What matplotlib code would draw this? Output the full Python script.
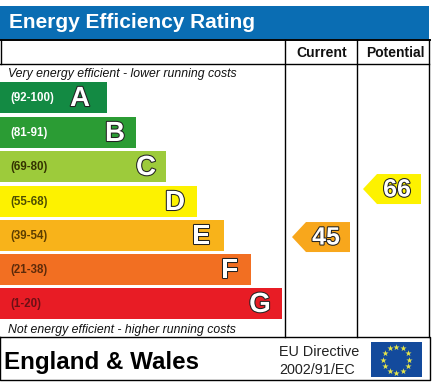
import matplotlib
matplotlib.use("Agg")
import matplotlib.pyplot as plt
import matplotlib.patheffects as pe
import numpy as np

plt.rcParams['font.family'] = ['Liberation Sans', 'DejaVu Sans']

# bands, top to bottom
letters = ["A", "B", "C", "D", "E", "F", "G"]
ranges = ["(92-100)", "(81-91)", "(69-80)", "(55-68)", "(39-54)", "(21-38)", "(1-20)"]
bar_len = [107, 136, 166, 197, 224, 251, 282]
bar_top = [82, 117, 151, 186, 220, 254, 288]
bar_colors = ["#138a43", "#2b9c34", "#9dcb3b", "#fdf200", "#f8b31a", "#f26f22", "#e81c25"]
range_colors = ["white", "white", "#333300", "#4d4d00", "#5c3d00", "#5c2a0a", "#6b1015"]
letter_x = [80, 115, 146, 175, 201, 230, 260]

current = 45
potential = 66

W, H = 435, 385
fig = plt.figure(figsize=(W / 100, H / 100), dpi=100)
ax = fig.add_axes([0, 0, 1, 1])
ax.set_xlim(0, W)
ax.set_ylim(H, 0)
ax.axis("off")


def score_y(s):
    # arrow height on the same pixel scale as the bands
    return 339.9 - 2.286 * s


# header
ax.barh(22.5, 429, height=33, left=0, color="#0a6db3")
ax.text(9, 23, "Energy Efficiency Rating", color="white", fontsize=15,
        fontweight="bold", va="center", ha="left")

# table lines
ax.plot([0, 430], [40, 40], color="black", lw=1.4)
ax.plot([0, 429], [64, 64], color="black", lw=1)
ax.plot([0.5, 0.5], [40, 64], color="black", lw=1)
ax.plot([285.5, 285.5], [40, 337], color="black", lw=1)
ax.plot([357.5, 357.5], [40, 337], color="black", lw=1)
ax.plot([429, 429], [40, 337], color="black", lw=1)

ax.text(322, 53, "Current", fontsize=10.1, fontweight="bold", ha="center", va="center", color="#111111")
ax.text(395, 53, "Potential", fontsize=10, fontweight="bold", ha="center", va="center", color="#111111")

ax.text(8, 73.5, "Very energy efficient - lower running costs", fontsize=8.8,
        style="italic", va="center", color="#111111")
ax.text(8, 329.5, "Not energy efficient - higher running costs", fontsize=8.8,
        style="italic", va="center", color="#111111")

# bars
outline = [pe.withStroke(linewidth=1.5, foreground="#222222")]
for i in range(len(letters)):
    ymid = bar_top[i] + 15.5
    ax.barh(ymid, bar_len[i], height=31, left=0, color=bar_colors[i])
    ax.text(10, ymid + 0.5, ranges[i], fontsize=8.3, fontweight="bold", va="center",
            color=range_colors[i])
    ax.text(letter_x[i], ymid + 1.5, letters[i], fontsize=20, fontweight="bold", va="center",
            ha="center", color="white", path_effects=outline)


def arrow(right, score, color):
    y = score_y(score)
    xs = [right - 58, right - 44, right, right, right - 44]
    ys = [y, y - 15, y - 15, y + 15, y + 15]
    ax.fill(xs, ys, color=color, lw=0)
    ax.text(right - 24, y + 0.5, str(score), fontsize=18, fontweight="bold", va="center",
            ha="center", color="white", path_effects=outline)


arrow(350, current, "#f8a71c")
arrow(421, potential, "#fdf200")

# footer
ax.plot([0, 430, 430, 0, 0], [337, 337, 380, 380, 337], color="black", lw=1)
ax.text(4, 362, "England & Wales", fontsize=17.4, fontweight="bold", va="center", color="black")
ax.text(279, 352, "EU Directive", fontsize=10.4, va="center", color="#222222")
ax.text(279, 369.5, "2002/91/EC", fontsize=10.4, va="center", color="#222222")

# EU flag
ax.barh(359.5, 51, height=35, left=371, color="#134a9c")
ang = np.deg2rad(np.arange(0, 360, 30))
ax.scatter(396.5 + 13 * np.cos(ang), 359.5 + 13 * np.sin(ang), marker="*", s=22,
           color="#e6e64a", linewidths=0)

fig.savefig("out.png", dpi=100, facecolor="white")
